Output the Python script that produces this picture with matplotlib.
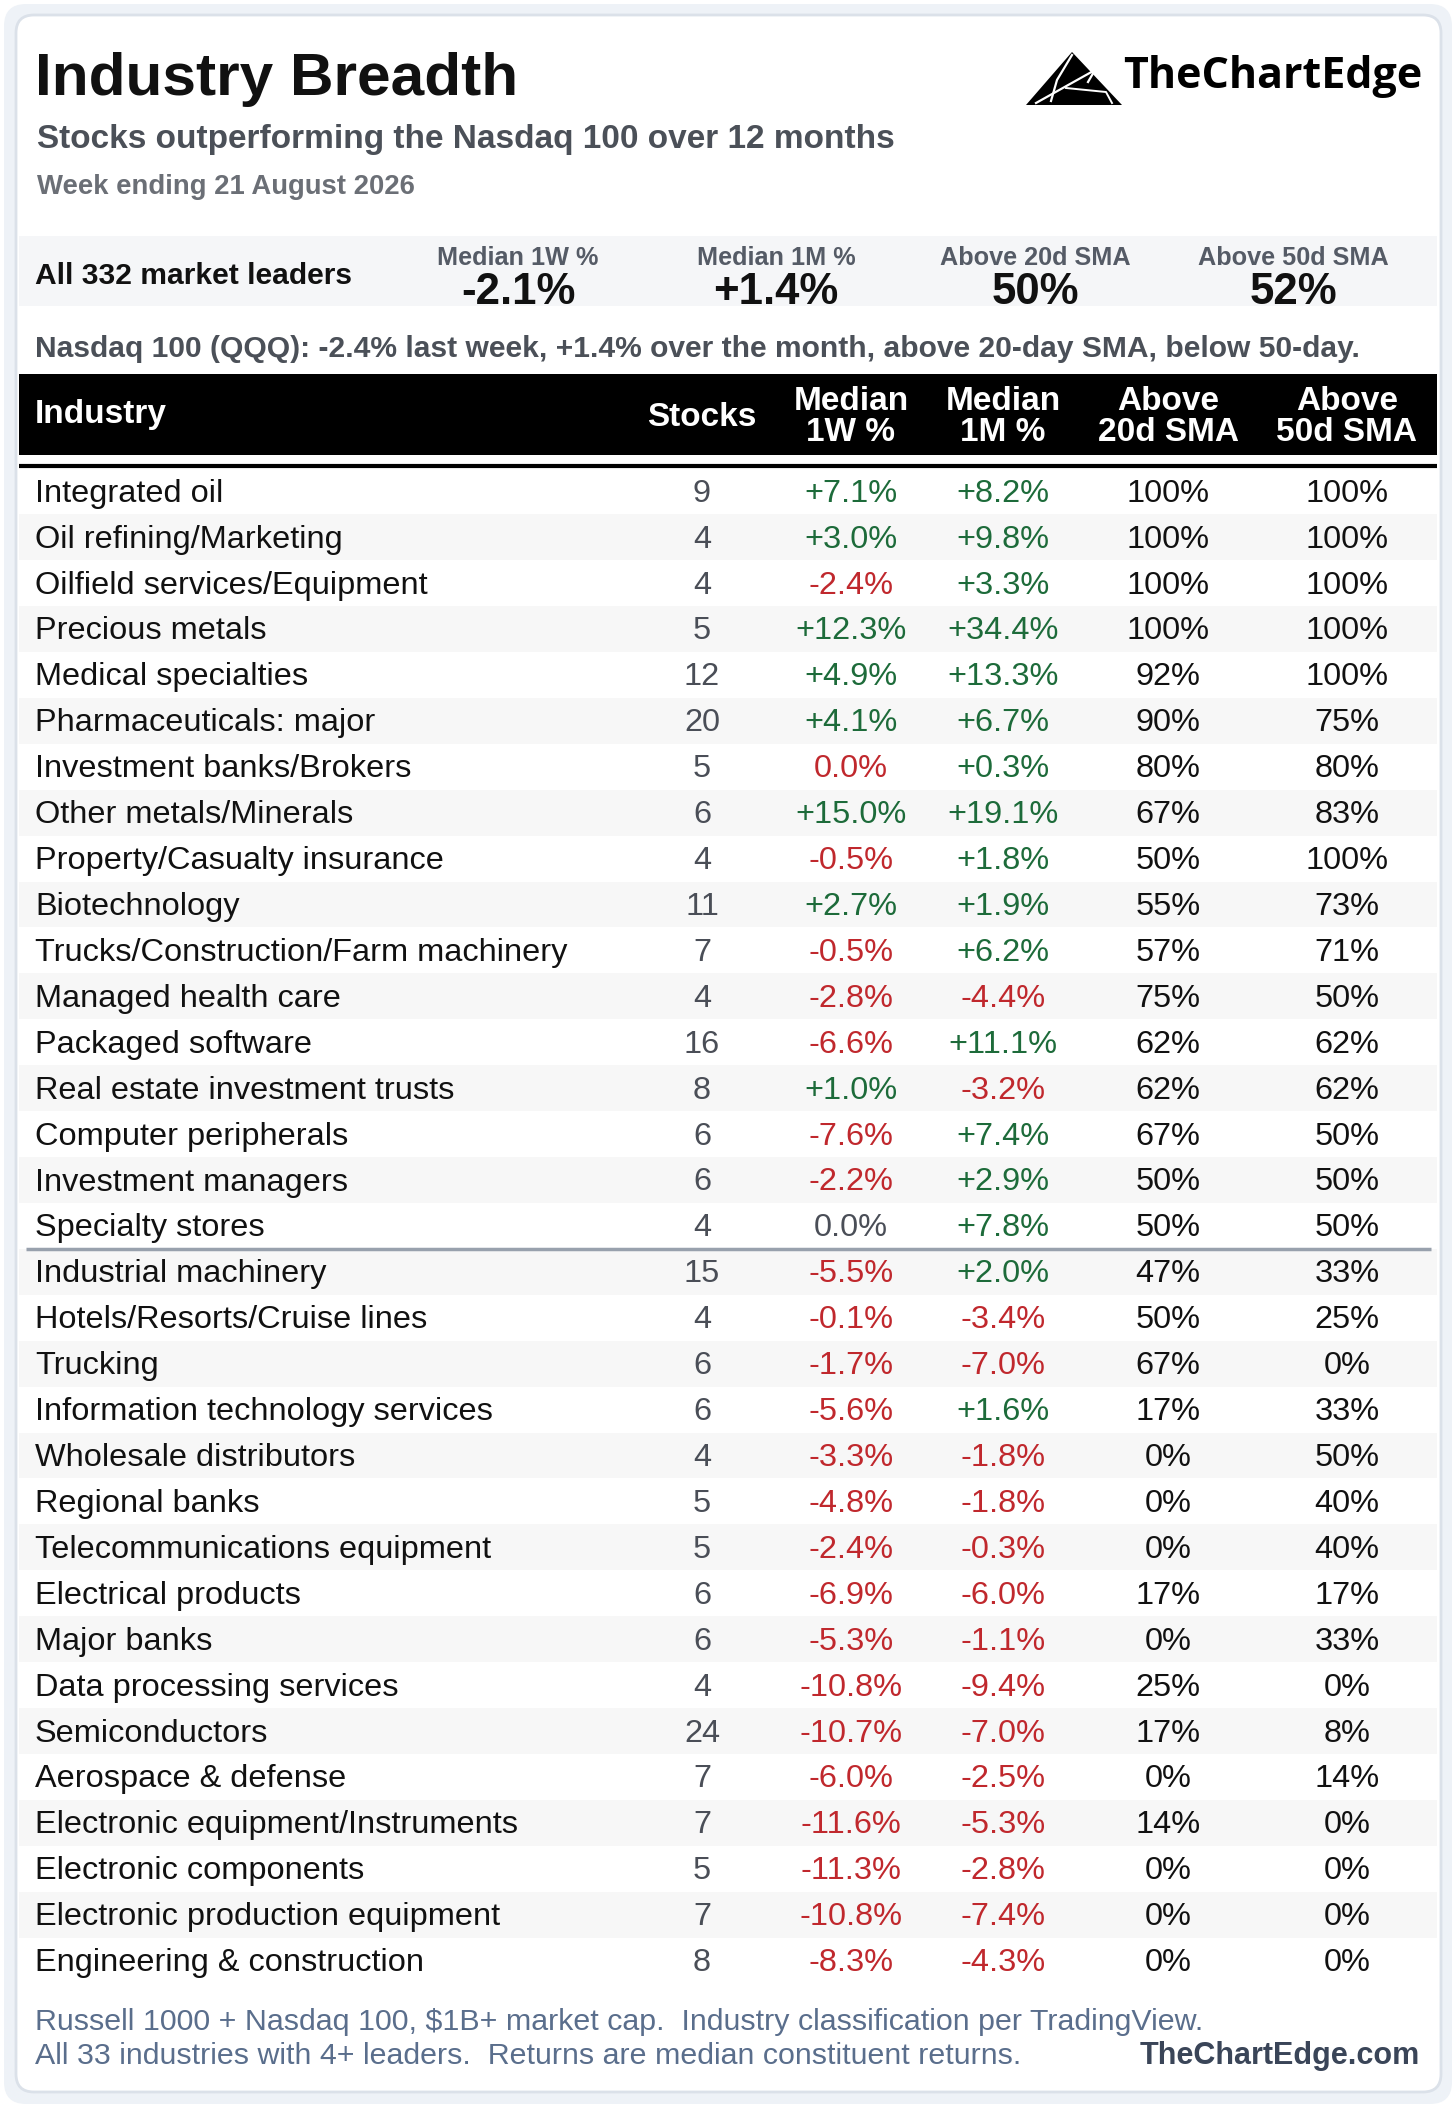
import matplotlib
matplotlib.use("Agg")
import matplotlib.pyplot as plt
from matplotlib.patches import FancyBboxPatch, Rectangle, Polygon

plt.rcParams['font.family'] = ['Liberation Sans', 'DejaVu Sans']

# ---- donnees ----
industries = [
    "Integrated oil", "Oil refining/Marketing", "Oilfield services/Equipment",
    "Precious metals", "Medical specialties", "Pharmaceuticals: major",
    "Investment banks/Brokers", "Other metals/Minerals", "Property/Casualty insurance",
    "Biotechnology", "Trucks/Construction/Farm machinery", "Managed health care",
    "Packaged software", "Real estate investment trusts", "Computer peripherals",
    "Investment managers", "Specialty stores", "Industrial machinery",
    "Hotels/Resorts/Cruise lines", "Trucking", "Information technology services",
    "Wholesale distributors", "Regional banks", "Telecommunications equipment",
    "Electrical products", "Major banks", "Data processing services",
    "Semiconductors", "Aerospace & defense", "Electronic equipment/Instruments",
    "Electronic components", "Electronic production equipment", "Engineering & construction",
]
stocks = [9, 4, 4, 5, 12, 20, 5, 6, 4, 11, 7, 4, 16, 8, 6, 6, 4,
          15, 4, 6, 6, 4, 5, 5, 6, 6, 4, 24, 7, 7, 5, 7, 8]
median_1w = [7.1, 3.0, -2.4, 12.3, 4.9, 4.1, -0.0, 15.0, -0.5, 2.7, -0.5, -2.8,
             -6.6, 1.0, -7.6, -2.2, 0.0, -5.5, -0.1, -1.7, -5.6, -3.3, -4.8, -2.4,
             -6.9, -5.3, -10.8, -10.7, -6.0, -11.6, -11.3, -10.8, -8.3]
median_1m = [8.2, 9.8, 3.3, 34.4, 13.3, 6.7, 0.3, 19.1, 1.8, 1.9, 6.2, -4.4,
             11.1, -3.2, 7.4, 2.9, 7.8, 2.0, -3.4, -7.0, 1.6, -1.8, -1.8, -0.3,
             -6.0, -1.1, -9.4, -7.0, -2.5, -5.3, -2.8, -7.4, -4.3]
above_20d = [100, 100, 100, 100, 92, 90, 80, 67, 50, 55, 57, 75, 62, 62, 67, 50, 50,
             47, 50, 67, 17, 0, 0, 0, 17, 0, 25, 17, 0, 14, 0, 0, 0]
above_50d = [100, 100, 100, 100, 100, 75, 80, 83, 100, 73, 71, 50, 62, 62, 50, 50, 50,
             33, 25, 0, 33, 50, 40, 40, 17, 33, 0, 8, 14, 0, 0, 0, 0]
# ligne de separation : apres les 17 premieres industries
separation = 17

resume_labels = ["Median 1W %", "Median 1M %", "Above 20d SMA", "Above 50d SMA"]
resume_values = ["-2.1%", "+1.4%", "50%", "52%"]
en_tetes = ["Stocks", "Median\n1W %", "Median\n1M %", "Above\n20d SMA", "Above\n50d SMA"]

VERT = "#1d6b3a"
ROUGE = "#c0282d"
GRIS = "#4a4e57"


def formatPct(v):
    if v > 0:
        return "+%.1f%%" % v
    elif v < 0:
        return "-%.1f%%" % abs(v)
    return "%.1f%%" % abs(v)


def couleurPct(v):
    if v > 0:
        return VERT
    if v < 0 or str(v).startswith("-"):
        return ROUGE
    return GRIS


W, H = 1456, 2108
fig = plt.figure(figsize=(W / 100, H / 100), dpi=100)
ax = fig.add_axes([0, 0, 1, 1])
ax.set_xlim(0, W)
ax.set_ylim(H, 0)
ax.axis("off")

# fond + carte
ax.add_patch(FancyBboxPatch((4, 4), W - 8, H - 8, boxstyle="round,pad=0,rounding_size=22",
                            fc="#eef2f7", ec="none"))
ax.add_patch(FancyBboxPatch((16, 15), 1425, 2077, boxstyle="round,pad=0,rounding_size=18",
                            fc="white", ec="#dbe1e9", lw=2))

# titres
ax.text(35, 95, "Industry Breadth", fontsize=43.5, fontweight="bold", color="#111111", va="baseline")
ax.text(37, 148, "Stocks outperforming the Nasdaq 100 over 12 months", fontsize=24,
        fontweight="bold", color="#4b5058", va="baseline")
ax.text(37, 194, "Week ending 21 August 2026", fontsize=19.8, fontweight="bold",
        color="#6b6f76", va="baseline")

# logo
ax.add_patch(Polygon([(1026, 105), (1072, 52), (1122, 105)], closed=True, fc="black", ec="none"))
ax.plot([1072, 1057, 1051], [55, 80, 101], color="white", lw=1.6)
ax.plot([1036, 1095, 1088], [103, 70, 82], color="white", lw=1.6)
ax.plot([1066, 1106, 1112], [88, 92, 103], color="white", lw=1.4)
ax.text(1123, 88, "TheChartEdge", fontsize=31, fontweight="bold", color="black",
        va="baseline", family=["Open Sans", "DejaVu Sans"])

# bandeau resume
ax.add_patch(Rectangle((19, 236), 1418, 70, fc="#f5f6f8", ec="none"))
ax.text(35, 284, "All 332 market leaders", fontsize=21.6, fontweight="bold", color="#111111",
        va="baseline")
resume_x = [518, 776, 1035, 1293]
for i in range(len(resume_labels)):
    ax.text(resume_x[i], 265, resume_labels[i], fontsize=18.2, fontweight="bold",
            color="#555b66", ha="center", va="baseline")
    ax.text(resume_x[i], 304, resume_values[i], fontsize=31.5, fontweight="bold",
            color="#111111", ha="center", va="baseline")

ax.text(35, 357, "Nasdaq 100 (QQQ): -2.4% last week, +1.4% over the month, above 20-day SMA, below 50-day.",
        fontsize=21.6, fontweight="bold", color="#4b5058", va="baseline")

# en-tete du tableau
ax.add_patch(Rectangle((19, 374), 1418, 81, fc="black", ec="none"))
ax.text(35, 415, "Industry", fontsize=24, fontweight="bold", color="white", va="center")
col_x = [702, 851, 1003, 1168, 1347]
for i in range(len(en_tetes)):
    ax.text(col_x[i], 417, en_tetes[i], fontsize=24, fontweight="bold", color="white",
            ha="center", va="center", linespacing=1.0)
ax.plot([19, 1437], [466, 466], color="black", lw=3, solid_capstyle="butt")

# lignes
y0, pas = 491.2, 45.92
for i in range(len(industries)):
    y = y0 + i * pas
    if i % 2 == 1:
        ax.add_patch(Rectangle((19, y - pas / 2), 1418, pas, fc="#f7f7f7", ec="none"))
    yt = y + 2.5
    ax.text(35, yt, industries[i], fontsize=23.4, color="#111111", va="center")
    ax.text(col_x[0], yt, str(stocks[i]), fontsize=23.4, color=GRIS, ha="center", va="center")
    ax.text(col_x[1], yt, formatPct(median_1w[i]), fontsize=23.4, color=couleurPct(median_1w[i]),
            ha="center", va="center")
    ax.text(col_x[2], yt, formatPct(median_1m[i]), fontsize=23.4, color=couleurPct(median_1m[i]),
            ha="center", va="center")
    ax.text(col_x[3], yt, "%d%%" % above_20d[i], fontsize=23.4, color="#111111", ha="center", va="center")
    ax.text(col_x[4], yt, "%d%%" % above_50d[i], fontsize=23.4, color="#111111", ha="center", va="center")

ysep = y0 + (separation - 0.5) * pas
ax.plot([26, 1431], [ysep, ysep], color="#98a1ad", lw=2.5, solid_capstyle="butt")

# pied de page
ax.text(35, 2030, "Russell 1000 + Nasdaq 100, $1B+ market cap.  Industry classification per TradingView.",
        fontsize=21.9, color="#5a6e8c", va="baseline")
ax.text(35, 2064, "All 33 industries with 4+ leaders.  Returns are median constituent returns.",
        fontsize=21.9, color="#5a6e8c", va="baseline")
ax.text(1420, 2064, "TheChartEdge.com", fontsize=22, fontweight="bold", color="#3a4558",
        ha="right", va="baseline")

fig.savefig("out.png", dpi=100)
plt.close(fig)
